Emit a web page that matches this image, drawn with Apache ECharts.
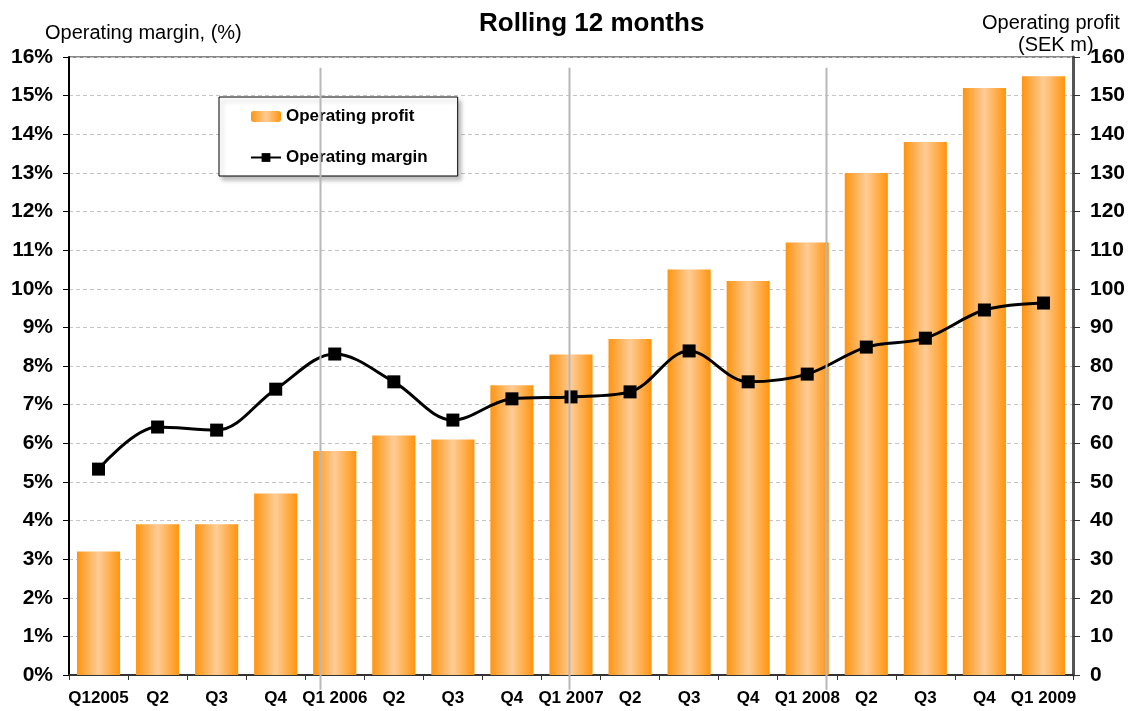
<!DOCTYPE html>
<html>
<head>
<meta charset="utf-8">
<script src="https://cdn.jsdelivr.net/npm/echarts@6/dist/echarts.min.js"></script>
<style>
  html, body { margin: 0; padding: 0; background: #fff; }
  #chart { width: 1132px; height: 711px; }
</style>
</head>
<body>
<div id="chart"></div>
<script>
// quarters
var quarters = ['Q12005', 'Q2', 'Q3', 'Q4', 'Q1 2006', 'Q2', 'Q3', 'Q4', 'Q1 2007',
                'Q2', 'Q3', 'Q4', 'Q1 2008', 'Q2', 'Q3', 'Q4', 'Q1 2009'];
// operating profit, SEK m (right axis)
var profit = [32, 39, 39, 47, 58, 62, 61, 75, 83, 87, 105, 102, 112, 130, 138, 152, 155];
// operating margin, % (left axis)
var margin = [5.33, 6.42, 6.34, 7.40, 8.31, 7.59, 6.60, 7.15, 7.20, 7.33, 8.39, 7.59, 7.79, 8.49, 8.72, 9.45, 9.63];
// year separators, in category units
var yearLines = [4.25, 8.47, 12.82];

var chart = echarts.init(document.getElementById('chart'));
var font = "Arial, 'Liberation Sans', sans-serif";

var barColor = new echarts.graphic.LinearGradient(0, 0, 1, 0, [
  { offset: 0, color: '#FF9410' },
  { offset: 0.5, color: '#FFCC96' },
  { offset: 1, color: '#FF940E' }
]);

var option = {
  animation: false,
  textStyle: { fontFamily: font },
  title: [
    { text: 'Rolling 12 months', left: 474, top: 6,
      textStyle: { fontSize: 26, fontWeight: 'bold', color: '#000', fontFamily: font } },
    { text: 'Operating margin, (%)', left: 40, top: 18,
      textStyle: { fontSize: 20, fontWeight: 'normal', color: '#000', fontFamily: font } },
    { text: 'Operating profit', left: 977, top: 8,
      textStyle: { fontSize: 20, fontWeight: 'normal', color: '#000', fontFamily: font } },
    { text: '(SEK m)', left: 1013, top: 30,
      textStyle: { fontSize: 20, fontWeight: 'normal', color: '#000', fontFamily: font } }
  ],
  legend: {
    orient: 'vertical',
    left: 219, top: 97,
    padding: [11, 30, 10, 31],
    itemGap: 24,
    itemWidth: 30, itemHeight: 11,
    backgroundColor: '#fff',
    borderColor: '#000', borderWidth: 1,
    shadowColor: 'rgba(0,0,0,0.25)', shadowBlur: 4, shadowOffsetX: 3, shadowOffsetY: 4,
    textStyle: { fontSize: 17, fontWeight: 'bold', color: '#000', fontFamily: font },
    data: ['Operating profit', 'Operating margin']
  },
  grid: { left: 69, right: 59, top: 57, bottom: 36, show: true, borderColor: '#111', borderWidth: 1 },
  xAxis: [{
    type: 'category',
    data: quarters,
    boundaryGap: true,
    axisLine: { lineStyle: { color: '#333', width: 2 } },
    axisTick: { show: true, length: 5, lineStyle: { color: '#333' } },
    axisLabel: { fontSize: 17, fontWeight: 'bold', color: '#000', margin: 15, interval: 0 }
  }, {
    type: 'value', min: 0, max: 17, show: false
  }],
  yAxis: [{
    type: 'value', min: 0, max: 16, interval: 1, position: 'left',
    axisLine: { show: true, lineStyle: { color: '#000', width: 2 } },
    axisTick: { show: true, length: 6, lineStyle: { color: '#000' } },
    axisLabel: { formatter: '{value}%', fontSize: 21, fontWeight: 'bold', color: '#000', margin: 16 },
    splitLine: { show: true, lineStyle: { color: '#c4c4c4', type: [4, 3], width: 1 } }
  }, {
    type: 'value', min: 0, max: 160, interval: 10, position: 'right',
    axisLine: { show: true, lineStyle: { color: '#555', width: 3 } },
    axisTick: { show: true, inside: false, length: 7, lineStyle: { color: '#333' } },
    axisLabel: { fontSize: 21, fontWeight: 'bold', color: '#000', margin: 17 },
    splitLine: { show: false }
  }],
  series: [{
    name: 'Operating profit',
    type: 'bar',
    yAxisIndex: 1,
    data: profit,
    barCategoryGap: '27%',
    itemStyle: { color: barColor }
  }, {
    name: 'Operating margin',
    type: 'line',
    yAxisIndex: 0,
    data: margin,
    smooth: 0.35,
    symbol: 'rect',
    symbolSize: 13,
    lineStyle: { color: '#000', width: 3 },
    itemStyle: { color: '#000' },
    z: 5
  }]
};
chart.setOption(option);

// year separator lines, drawn over the plot and past the axis
var lines = yearLines.map(function (v) {
  var x = chart.convertToPixel({ xAxisIndex: 1 }, v);
  var y1 = chart.convertToPixel({ yAxisIndex: 0 }, 15.72);
  var y2 = chart.convertToPixel({ yAxisIndex: 0 }, -0.38);
  return {
    type: 'line', z: 10,
    shape: { x1: Math.round(x) + 0.5, y1: y1, x2: Math.round(x) + 0.5, y2: y2 },
    style: { stroke: '#b8b8b8', lineWidth: 2 }
  };
});
chart.setOption({ graphic: lines });
</script>
</body>
</html>
